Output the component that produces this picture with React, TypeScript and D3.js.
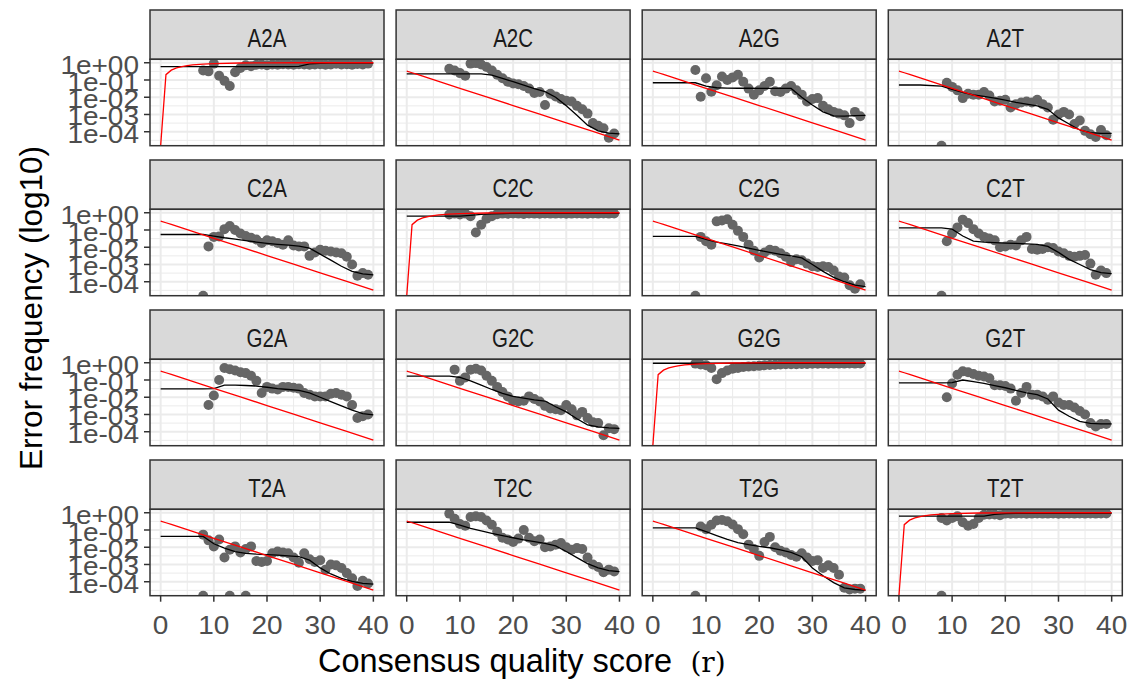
import React from 'react';
import * as d3 from 'd3';

// transitions shown in the facets, row by row
const transitions = ['A2A', 'A2C', 'A2G', 'A2T', 'C2A', 'C2C', 'C2G', 'C2T', 'G2A', 'G2C', 'G2G', 'G2T', 'T2A', 'T2C', 'T2G', 'T2T'];

// x values
const qualObs = [8, 9, 10, 11, 12, 13, 14, 15, 16, 17, 18, 19, 20, 21, 22, 23, 24, 25, 26, 27, 28, 29, 30, 31, 32, 33, 34, 35, 36, 37, 38, 39];
const qualFit = [0, 4, 8, 10, 12, 14, 16, 18, 20, 22, 24, 26, 28, 30, 32, 34, 36, 38, 40];
const qualNom = [0, 1, 2, 3, 4, 5, 6, 8, 10, 15, 20, 25, 30, 35, 40];

// y ticks (log10 of error frequency)
const yMajor = [0, -1, -2, -3, -4];
const yMinor = [-0.5, -1.5, -2.5, -3.5, -4.5];
const yTickLabels = ['1e+00', '1e-01', '1e-02', '1e-03', '1e-04'];
const xMajor = [0, 10, 20, 30, 40];
const xMinor = [5, 15, 25, 35];

// nominal error rate (red), log10; null = zero frequency
const nomOff = [-0.48, -0.58, -0.68, -0.78, -0.88, -0.98, -1.08, -1.28, -1.48, -1.98, -2.48, -2.98, -3.48, -3.98, -4.48];
const nomSelf = [null, -0.69, -0.43, -0.3, -0.22, -0.165, -0.125, -0.075, -0.046, -0.014, -0.004, -0.001, 0, 0, 0];

// observed error frequency (grey points), log10, at qualObs; NaN = no point
const obsA2A = [-0.45, -0.5, -0.05, -0.75, -1.05, -1.35, -0.55, -0.3, -0.15, -0.2, -0.12, -0.1, -0.15, -0.1, -0.12, -0.08, -0.1, -0.12, -0.08, -0.1, -0.12, -0.1, -0.08, -0.12, -0.1, -0.06, -0.1, -0.08, -0.12, -0.07, -0.1, -0.05];
const obsA2C = [-0.35, -0.45, -0.6, -0.75, -0.05, -0.02, -0.1, -0.25, -0.45, -0.7, -0.9, -1.1, -1.2, -1.25, -1.35, -1.5, -1.75, -1.7, -2.45, -1.8, -1.95, -2.1, -2.2, -2.25, -2.5, -2.7, -2.95, -3.5, -3.65, -3.8, -4.35, -4.1];
const obsA2G = [-0.42, -1.97, -0.9, -1.68, -1.3, -0.8, -1.0, -0.85, -0.7, -1.1, -1.5, -1.85, -1.6, -1.35, -1.1, -1.65, -1.7, -1.5, -1.35, -1.6, -1.85, -2.25, -2.1, -2.05, -2.5, -2.7, -2.85, -2.95, -3.05, -3.5, -2.85, -3.1];
const obsA2T = [NaN, -1.16, -1.4, -1.6, -2.05, -1.8, -1.85, -1.85, -1.7, -1.9, -2.25, -2.2, -2.15, -2.6, -2.4, -2.3, -2.25, -2.3, -2.15, -2.4, -2.6, -3.3, -3.0, -2.85, -3.0, -3.55, -3.35, -3.95, -4.15, -4.3, -3.9, -4.2];
const obsC2A = [NaN, -1.95, -1.4, -1.37, -0.95, -0.77, -1.0, -1.2, -1.35, -1.45, -1.55, -1.75, -1.6, -1.65, -1.75, -1.85, -1.6, -1.9, -1.95, -1.95, -2.5, -2.3, -2.15, -2.2, -2.25, -2.3, -2.35, -2.55, -3.0, -3.65, -3.5, -3.6];
const obsC2C = [-0.1, -0.05, -0.1, -0.05, -0.2, -1.15, -0.7, -0.35, -0.2, -0.08, -0.05, -0.06, -0.04, -0.05, -0.07, -0.04, -0.05, -0.06, -0.04, -0.05, -0.05, -0.04, -0.06, -0.05, -0.04, -0.05, -0.06, -0.04, -0.05, -0.04, -0.05, -0.04];
const obsC2G = [NaN, -1.4, -1.65, -1.85, -0.5, -0.45, -0.38, -0.7, -1.05, -1.4, -1.85, -2.2, -2.6, -2.3, -2.15, -2.2, -2.35, -2.55, -2.85, -2.7, -2.75, -2.95, -3.1, -3.15, -3.1, -3.15, -3.35, -3.7, -3.75, -4.2, -4.4, -4.15];
const obsC2T = [NaN, -1.65, -1.2, -0.85, -0.4, -0.6, -0.95, -1.2, -1.4, -1.5, -1.6, -2.0, -1.95, -1.85, -1.9, -1.6, -1.4, -2.1, -2.15, -2.1, -2.0, -2.05, -2.25, -2.35, -2.5, -2.55, -2.5, -2.45, -2.95, -3.6, -3.35, -3.5];
const obsG2A = [NaN, -2.45, -1.9, -1.0, -0.3, -0.38, -0.45, -0.55, -0.6, -0.75, -1.05, -1.75, -1.4, -1.5, -1.55, -1.4, -1.4, -1.45, -1.5, -1.75, -1.85, -1.95, -1.95, -1.95, -1.8, -1.75, -1.85, -1.95, -2.45, -3.2, -3.1, -3.0];
const obsG2C = [NaN, -0.4, -1.05, -0.85, -0.4, -0.35, -0.45, -0.75, -1.05, -1.4, -1.7, -1.95, -2.2, -2.25, -2.2, -1.95, -2.1, -2.25, -2.5, -2.65, -2.7, -2.75, -2.45, -2.7, -3.05, -2.85, -3.2, -3.45, -3.5, -4.2, -3.8, -3.85];
const obsG2G = [-0.05, -0.1, -0.15, -0.3, -0.95, -0.6, -0.45, -0.35, -0.3, -0.25, -0.22, -0.2, -0.18, -0.15, -0.13, -0.12, -0.1, -0.09, -0.08, -0.08, -0.07, -0.07, -0.06, -0.06, -0.05, -0.06, -0.05, -0.05, -0.05, -0.04, -0.05, -0.04];
const obsG2T = [NaN, -2.0, -1.2, -0.7, -0.5, -0.55, -0.65, -0.75, -0.8, -0.9, -1.3, -1.3, -1.35, -1.5, -2.2, -1.75, -1.4, -1.85, -1.85, -1.95, -2.15, -1.95, -2.3, -2.45, -2.45, -2.6, -2.8, -3.0, -3.5, -3.7, -3.55, -3.55];
const obsT2A = [-1.27, -1.6, -1.95, -1.55, -2.6, -2.15, -1.95, -2.3, -2.1, -1.95, -2.8, -2.85, -2.8, -2.35, -2.25, -2.3, -2.35, -2.6, -2.9, -2.35, -2.7, -2.85, -2.75, -3.3, -3.0, -3.05, -3.2, -3.5, -3.8, -4.25, -3.95, -4.1];
const obsT2C = [-0.05, -0.35, -0.65, -0.75, -0.25, -0.2, -0.25, -0.45, -0.7, -1.1, -1.45, -1.55, -1.7, -1.5, -1.0, -1.45, -1.65, -1.55, -2.0, -1.95, -1.85, -1.75, -2.0, -2.15, -2.05, -2.1, -2.6, -3.0, -3.15, -3.45, -3.3, -3.4];
const obsT2G = [NaN, -0.8, -0.95, -0.7, -0.45, -0.42, -0.5, -0.68, -0.95, -1.25, -1.85, -2.1, -2.5, -1.7, -1.4, -2.0, -2.2, -2.3, -2.45, -2.55, -2.35, -2.6, -2.8, -2.75, -3.2, -3.05, -3.2, -3.6, -4.35, -4.45, -4.4, -4.4];
const obsT2T = [-0.3, -0.45, -0.3, -0.2, -0.55, -0.75, -0.65, -0.3, -0.12, -0.1, -0.1, -0.15, -0.05, -0.06, -0.05, -0.04, -0.06, -0.05, -0.04, -0.05, -0.05, -0.04, -0.06, -0.05, -0.04, -0.05, -0.04, -0.05, -0.04, -0.05, -0.04, -0.04];

// qualities where the observed frequency is zero (drawn on the lower edge)
const zeroA2T = [8];
const zeroC2A = [8];
const zeroC2G = [8];
const zeroC2T = [8];
const zeroT2A = [8, 13, 16];
const zeroT2G = [8];
const zeroT2T = [8];

// fitted error rate (black), log10, at qualFit
const fitA2A = [-0.22, -0.22, -0.22, -0.22, -0.22, -0.22, -0.22, -0.22, -0.22, -0.22, -0.22, -0.21, -0.06, -0.03, -0.02, -0.02, -0.02, -0.02, -0.02];
const fitA2C = [-0.65, -0.65, -0.65, -0.65, -0.65, -0.65, -0.72, -0.9, -1.1, -1.3, -1.5, -1.68, -2.0, -2.5, -3.05, -3.62, -3.95, -4.08, -4.12];
const fitA2G = [-1.16, -1.16, -1.16, -1.35, -1.45, -1.47, -1.48, -1.48, -1.49, -1.49, -1.49, -1.49, -2.0, -2.45, -2.85, -3.08, -3.1, -3.07, -3.05];
const fitA2T = [-1.29, -1.29, -1.35, -1.55, -1.72, -1.87, -1.95, -2.05, -2.17, -2.3, -2.4, -2.5, -2.7, -3.2, -3.55, -3.9, -4.05, -4.1, -4.1];
const fitC2A = [-1.26, -1.26, -1.26, -1.35, -1.45, -1.53, -1.62, -1.7, -1.77, -1.83, -1.88, -1.93, -2.05, -2.4, -2.75, -3.1, -3.4, -3.55, -3.6];
const fitC2C = [-0.19, -0.19, -0.19, -0.19, -0.15, -0.1, -0.07, -0.05, -0.03, -0.03, -0.03, -0.03, -0.03, -0.03, -0.03, -0.03, -0.03, -0.03, -0.03];
const fitC2G = [-1.37, -1.37, -1.37, -1.55, -1.7, -1.8, -1.92, -2.05, -2.18, -2.3, -2.42, -2.5, -2.62, -3.0, -3.4, -3.75, -4.0, -4.2, -4.28];
const fitC2T = [-0.88, -0.88, -0.88, -0.95, -1.35, -1.65, -1.7, -1.73, -1.76, -1.78, -1.8, -1.83, -1.95, -2.3, -2.7, -3.0, -3.3, -3.47, -3.53];
const fitG2A = [-1.52, -1.52, -1.52, -1.5, -1.3, -1.3, -1.32, -1.35, -1.42, -1.5, -1.55, -1.6, -1.75, -2.0, -2.25, -2.5, -2.75, -2.95, -3.02];
const fitG2C = [-0.78, -0.78, -0.78, -0.85, -1.05, -1.3, -1.55, -1.78, -1.95, -2.05, -2.15, -2.22, -2.55, -2.85, -3.25, -3.6, -3.72, -3.78, -3.8];
const fitG2G = [-0.03, -0.03, -0.03, -0.03, -0.03, -0.03, -0.03, -0.03, -0.03, -0.03, -0.03, -0.03, -0.03, -0.03, -0.03, -0.03, -0.03, -0.03, -0.03];
const fitG2T = [-1.17, -1.17, -1.17, -1.15, -1.0, -1.1, -1.2, -1.33, -1.45, -1.6, -1.75, -1.85, -2.1, -2.75, -3.1, -3.4, -3.52, -3.55, -3.55];
const fitT2A = [-1.37, -1.37, -1.37, -1.8, -2.05, -2.25, -2.35, -2.4, -2.43, -2.46, -2.5, -2.55, -2.75, -3.2, -3.55, -3.8, -3.98, -4.1, -4.14];
const fitT2C = [-0.55, -0.55, -0.55, -0.72, -0.9, -1.05, -1.2, -1.33, -1.45, -1.57, -1.68, -1.78, -1.92, -2.25, -2.6, -2.95, -3.2, -3.35, -3.41];
const fitT2G = [-0.88, -0.88, -0.88, -1.1, -1.32, -1.55, -1.73, -1.85, -1.95, -2.03, -2.15, -2.3, -2.55, -3.2, -3.65, -4.05, -4.35, -4.45, -4.5];
const fitT2T = [-0.2, -0.2, -0.2, -0.2, -0.2, -0.2, -0.2, -0.1, -0.05, -0.03, -0.03, -0.03, -0.03, -0.03, -0.03, -0.03, -0.03, -0.03, -0.03];

const obsBy = { A2A: obsA2A, A2C: obsA2C, A2G: obsA2G, A2T: obsA2T, C2A: obsC2A, C2C: obsC2C, C2G: obsC2G, C2T: obsC2T, G2A: obsG2A, G2C: obsG2C, G2G: obsG2G, G2T: obsG2T, T2A: obsT2A, T2C: obsT2C, T2G: obsT2G, T2T: obsT2T };
const fitBy = { A2A: fitA2A, A2C: fitA2C, A2G: fitA2G, A2T: fitA2T, C2A: fitC2A, C2C: fitC2C, C2G: fitC2G, C2T: fitC2T, G2A: fitG2A, G2C: fitG2C, G2G: fitG2G, G2T: fitG2T, T2A: fitT2A, T2C: fitT2C, T2G: fitT2G, T2T: fitT2T };
const zeroBy = { A2T: zeroA2T, C2A: zeroC2A, C2G: zeroC2G, C2T: zeroC2T, T2A: zeroT2A, T2G: zeroT2G, T2T: zeroT2T };

// layout
const W = 1135, H = 681;
const left0 = 150, colStep = 246.1, panelW = 234;
const top0 = 10, rowStep = 150, stripH = 49.3, panelH = 86.4;
const font = '"Liberation Sans", Arial, sans-serif';
const pointR = 5;

const x = d3.scaleLinear().domain([-2, 42]).range([0, panelW]);
const y = d3.scaleLinear().domain([-4.81, 0.2]).range([panelH, 0]);
const yv = (v) => (v === null ? panelH : y(v));

const line = d3.line().x((d) => x(d[0])).y((d) => yv(d[1]));

const SText = ({ tx, ty, sx = 1, anchor = 'middle', size, fill, family = font, children }) => (
    <text transform={`translate(${tx},${ty}) scale(${sx},1)`} textAnchor={anchor} fontSize={size} fill={fill} fontFamily={family}>
        {children}
    </text>
);

const Panel = ({ name, i }) => {
    const r = Math.floor(i / 4);
    const c = i % 4;
    const px = left0 + c * colStep;
    const sy = top0 + r * rowStep;
    const py = sy + stripH;
    const self = name[0] === name[2];
    const obs = obsBy[name];
    const fit = fitBy[name];
    const zeros = zeroBy[name] || [];
    const nom = self ? nomSelf : nomOff;
    return (
        <g>
            {/* strip */}
            <rect x={px} y={sy} width={panelW} height={stripH} fill="#D9D9D9" stroke="#333333" strokeWidth={1.5} />
            <SText tx={px + panelW / 2} ty={sy + 37} sx={0.82} size={25} fill="#1A1A1A">{name}</SText>
            <g transform={`translate(${px},${py})`}>
                <clipPath id={`clip-${i}`}>
                    <rect x={0} y={0} width={panelW} height={panelH} />
                </clipPath>
                <rect x={0} y={0} width={panelW} height={panelH} fill="#FFFFFF" />
                {xMinor.map((t) => (
                    <line key={`xm${t}`} x1={x(t)} x2={x(t)} y1={0} y2={panelH} stroke="#EBEBEB" strokeWidth={1} />
                ))}
                {yMinor.map((t) => (
                    <line key={`ym${t}`} x1={0} x2={panelW} y1={y(t)} y2={y(t)} stroke="#EBEBEB" strokeWidth={1} />
                ))}
                {xMajor.map((t) => (
                    <line key={`xM${t}`} x1={x(t)} x2={x(t)} y1={0} y2={panelH} stroke="#EBEBEB" strokeWidth={2} />
                ))}
                {yMajor.map((t) => (
                    <line key={`yM${t}`} x1={0} x2={panelW} y1={y(t)} y2={y(t)} stroke="#EBEBEB" strokeWidth={2} />
                ))}
                <g clipPath={`url(#clip-${i})`}>
                    {qualObs.map((q, k) =>
                        Number.isNaN(obs[k]) ? null : <circle key={`o${q}`} cx={x(q)} cy={y(obs[k])} r={pointR} fill="#666666" />
                    )}
                    {zeros.map((q) => (
                        <circle key={`z${q}`} cx={x(q)} cy={panelH} r={pointR} fill="#666666" />
                    ))}
                    <path d={line(qualFit.map((q, k) => [q, fit[k]]))} fill="none" stroke="#000000" strokeWidth={1.3} />
                    <path d={line(qualNom.map((q, k) => [q, nom[k]]))} fill="none" stroke="#FF0000" strokeWidth={1.3} />
                </g>
                <rect x={0} y={0} width={panelW} height={panelH} fill="none" stroke="#333333" strokeWidth={1.5} />
                {/* y axis on the first column */}
                {c === 0 &&
                    yMajor.map((t, k) => (
                        <g key={`yt${t}`}>
                            <line x1={-6} x2={0} y1={y(t)} y2={y(t)} stroke="#333333" strokeWidth={1.5} />
                            <SText tx={-11} ty={y(t) + 11} sx={1.12} anchor="end" size={25} fill="#4D4D4D">{yTickLabels[k]}</SText>
                        </g>
                    ))}
                {/* x axis on the bottom row */}
                {r === 3 &&
                    xMajor.map((t) => (
                        <g key={`xt${t}`}>
                            <line x1={x(t)} x2={x(t)} y1={panelH} y2={panelH + 6} stroke="#333333" strokeWidth={1.5} />
                            <SText tx={x(t)} ty={panelH + 38} sx={1.12} size={25} fill="#4D4D4D">{t}</SText>
                        </g>
                    ))}
            </g>
        </g>
    );
};

const App = () => (
    <svg width={W} height={H} style={{ position: 'absolute', left: 0, top: 0, background: '#FFFFFF' }}>
        <rect x={0} y={0} width={W} height={H} fill="#FFFFFF" />
        {transitions.map((name, i) => (
            <Panel key={name} name={name} i={i} />
        ))}
        <SText tx={318} ty={672} anchor="start" size={32.5} fill="#000000">Consensus quality score</SText>
        <SText tx={708} ty={672} size={28} fill="#000000" family='"DejaVu Serif", serif'>(r)</SText>
        <text transform="translate(42,308) rotate(-90)" textAnchor="middle" fontSize={31.5} fill="#000000" fontFamily={font}>
            Error frequency (log10)
        </text>
    </svg>
);

export default App;
